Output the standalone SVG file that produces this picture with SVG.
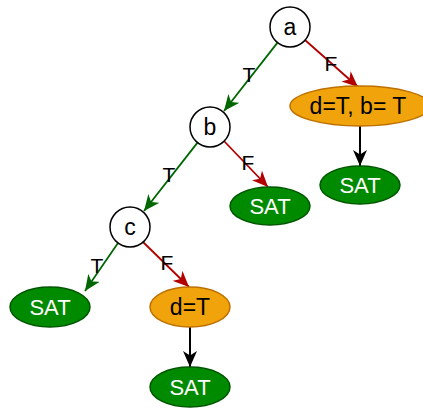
<svg xmlns="http://www.w3.org/2000/svg" width="423" height="408" viewBox="0 0 423 408">
  <style>
    text { font-family: "Liberation Sans", Arial, sans-serif; text-anchor: middle; dominant-baseline: central; }
    .var { fill: #ffffff; stroke: #000000; stroke-width: 1.5; }
    .sat { fill: #008a00; stroke: #005700; stroke-width: 1.5; }
    .sat-t { fill: #ffffff; font-size: 22px; }
    .set { fill: #f0a30a; stroke: #bd7000; stroke-width: 1.5; }
    .dark { fill: #000000; font-size: 23px; }
    .lbl { fill: #000000; font-size: 21px; }
    .e { fill: none; stroke-width: 1.8; }
    .t { stroke: #006600; }
    .f { stroke: #b20000; }
    .k { stroke: #000000; stroke-width: 2; }
  </style>
  <defs>
    <marker id="mt" viewBox="0 0 16 14" refX="16" refY="7" markerWidth="16" markerHeight="14" markerUnits="userSpaceOnUse" orient="auto">
      <path d="M0,0 L16,7 L0,14 L4.5,7 Z" fill="#006600"/>
    </marker>
    <marker id="mf" viewBox="0 0 16 14" refX="16" refY="7" markerWidth="16" markerHeight="14" markerUnits="userSpaceOnUse" orient="auto">
      <path d="M0,0 L16,7 L0,14 L4.5,7 Z" fill="#b20000"/>
    </marker>
    <marker id="mk" viewBox="0 0 16 14" refX="16" refY="7" markerWidth="16" markerHeight="14" markerUnits="userSpaceOnUse" orient="auto">
      <path d="M0,0 L16,7 L0,14 L4.5,7 Z" fill="#000000"/>
    </marker>
  </defs>

  <g id="edges">
    <line class="e t" x1="277.5" y1="42.6" x2="224" y2="111" marker-end="url(#mt)"/>
    <line class="e f" x1="305" y1="40" x2="358" y2="87" marker-end="url(#mf)"/>
    <line class="e t" x1="197.5" y1="142.6" x2="144" y2="211" marker-end="url(#mt)"/>
    <line class="e f" x1="224" y1="141" x2="268" y2="187" marker-end="url(#mf)"/>
    <line class="e t" x1="118" y1="243" x2="85" y2="291" marker-end="url(#mt)"/>
    <line class="e f" x1="143" y1="242" x2="189" y2="287" marker-end="url(#mf)"/>
    <line class="e k" x1="360" y1="126" x2="360" y2="166" marker-end="url(#mk)"/>
    <line class="e k" x1="190" y1="327" x2="190" y2="367" marker-end="url(#mk)"/>
    <text class="lbl" x="249" y="74">T</text>
    <text class="lbl" x="331" y="63">F</text>
    <text class="lbl" x="169" y="174">T</text>
    <text class="lbl" x="248" y="162">F</text>
    <text class="lbl" x="97" y="265">T</text>
    <text class="lbl" x="167" y="262">F</text>
  </g>

  <g id="node-a">
    <circle class="var" cx="290" cy="27" r="20"/>
    <text class="dark" x="290" y="27">a</text>
  </g>
  <g id="node-b">
    <circle class="var" cx="210" cy="127" r="20"/>
    <text class="dark" x="210" y="127">b</text>
  </g>
  <g id="node-c">
    <circle class="var" cx="130" cy="227" r="20"/>
    <text class="dark" x="130" y="227">c</text>
  </g>
  <g id="node-db">
    <ellipse class="set" cx="360" cy="106" rx="70" ry="20"/>
    <text class="dark" x="358" y="106">d=T, b= T</text>
  </g>
  <g id="node-sat-a">
    <ellipse class="sat" cx="360" cy="185" rx="40" ry="19"/>
    <text class="sat-t" x="360" y="185">SAT</text>
  </g>
  <g id="node-sat-b">
    <ellipse class="sat" cx="270" cy="206" rx="40" ry="19"/>
    <text class="sat-t" x="270" y="206">SAT</text>
  </g>
  <g id="node-sat-c">
    <ellipse class="sat" cx="50" cy="307" rx="40" ry="20"/>
    <text class="sat-t" x="50" y="307">SAT</text>
  </g>
  <g id="node-d">
    <ellipse class="set" cx="190" cy="307" rx="40" ry="20"/>
    <text class="dark" x="190" y="307">d=T</text>
  </g>
  <g id="node-sat-d">
    <ellipse class="sat" cx="190" cy="387" rx="40" ry="20"/>
    <text class="sat-t" x="190" y="387">SAT</text>
  </g>
</svg>
